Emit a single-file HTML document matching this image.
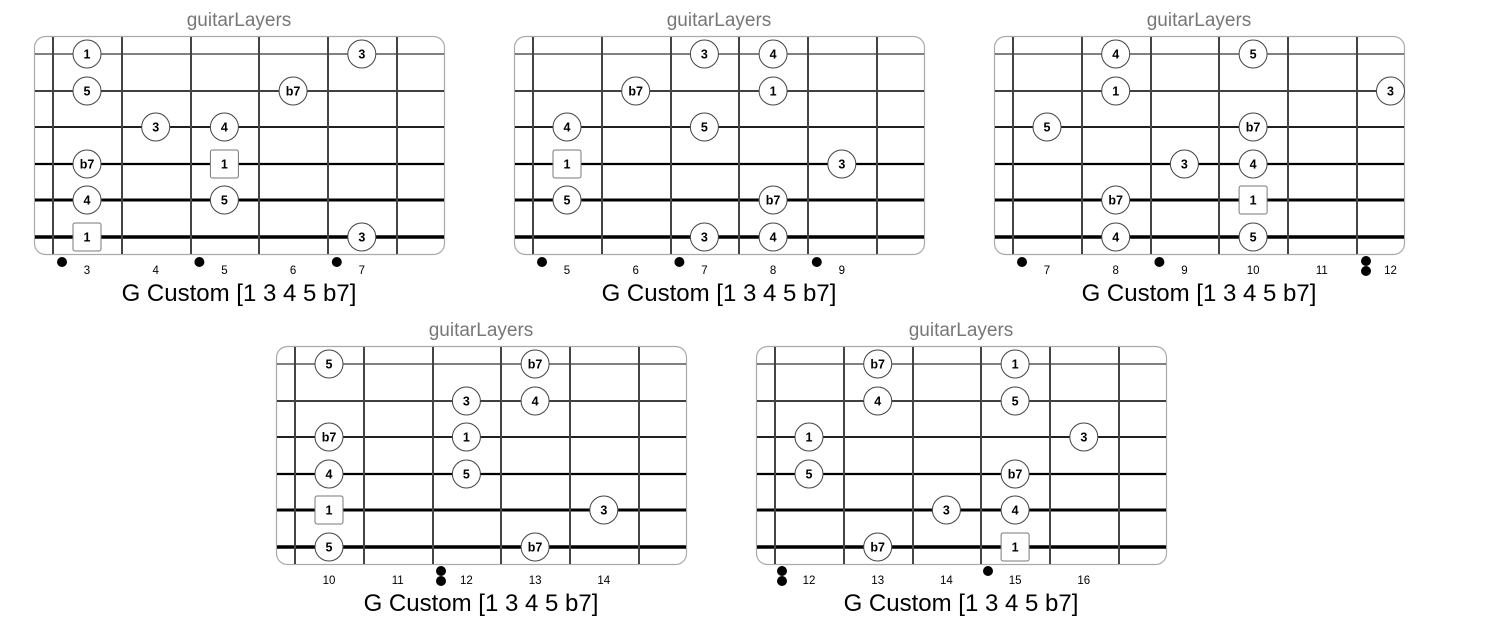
<!DOCTYPE html>
<html><head><meta charset="utf-8"><style>
html,body{margin:0;padding:0;background:#fff;}
svg{display:block;}
.t{font-family:"Liberation Sans",sans-serif;font-size:19px;fill:#777;text-anchor:middle;}
.l{font-family:"Liberation Sans",sans-serif;font-size:24px;fill:#000;text-anchor:middle;}
.n{font-family:"Liberation Sans",sans-serif;font-size:11.5px;fill:#000;text-anchor:middle;}
.nt{font-family:"Liberation Sans",sans-serif;font-size:12.5px;font-weight:bold;fill:#000;text-anchor:middle;}
.box{fill:#fff;stroke:#aaa;stroke-width:1.2;}
.f{stroke:#444;stroke-width:2;}
.c{fill:#fff;stroke:#444;stroke-width:1;}
.s{fill:#fff;stroke:#777;stroke-width:1;}
</style></head><body>
<svg width="1511" height="620" viewBox="0 0 1511 620" xmlns="http://www.w3.org/2000/svg">
<defs>
<g id="fb">
<rect class="box" x="0.5" y="0.5" width="410" height="218" rx="11"/>
<line x1="1" x2="410" y1="18" y2="18" stroke="#000" stroke-width="1"/>
<line x1="1" x2="410" y1="55" y2="55" stroke="#000" stroke-width="1.4"/>
<line x1="1" x2="410" y1="91" y2="91" stroke="#000" stroke-width="1.8"/>
<line x1="1" x2="410" y1="128" y2="128" stroke="#000" stroke-width="2.3"/>
<line x1="1" x2="410" y1="164" y2="164" stroke="#000" stroke-width="2.9"/>
<line x1="1" x2="410" y1="201" y2="201" stroke="#000" stroke-width="3.4"/>
<line class="f" x1="19" x2="19" y1="1" y2="218"/>
<line class="f" x1="88" x2="88" y1="1" y2="218"/>
<line class="f" x1="157" x2="157" y1="1" y2="218"/>
<line class="f" x1="225" x2="225" y1="1" y2="218"/>
<line class="f" x1="294" x2="294" y1="1" y2="218"/>
<line class="f" x1="363" x2="363" y1="1" y2="218"/>
</g>
</defs>

<!-- D1 -->
<g transform="translate(34,36)">
<use href="#fb"/>
<text class="t" x="205" y="-10">guitarLayers</text>
<circle class="c" cx="53" cy="18" r="14"/><text class="nt" x="53" y="22.5">1</text>
<circle class="c" cx="327.8" cy="18" r="14"/><text class="nt" x="327.8" y="22.5">3</text>
<circle class="c" cx="53" cy="55" r="14"/><text class="nt" x="53" y="59.5">5</text>
<circle class="c" cx="259.1" cy="55" r="14"/><text class="nt" x="259.1" y="59.5">b7</text>
<circle class="c" cx="121.7" cy="91" r="14"/><text class="nt" x="121.7" y="95.5">3</text>
<circle class="c" cx="190.4" cy="91" r="14"/><text class="nt" x="190.4" y="95.5">4</text>
<circle class="c" cx="53" cy="128" r="14"/><text class="nt" x="53" y="132.5">b7</text>
<rect class="s" x="176.4" y="114" width="28" height="28" rx="2"/><text class="nt" x="190.4" y="132.5">1</text>
<circle class="c" cx="53" cy="164" r="14"/><text class="nt" x="53" y="168.5">4</text>
<circle class="c" cx="190.4" cy="164" r="14"/><text class="nt" x="190.4" y="168.5">5</text>
<rect class="s" x="39" y="187" width="28" height="28" rx="2"/><text class="nt" x="53" y="205.5">1</text>
<circle class="c" cx="327.8" cy="201" r="14"/><text class="nt" x="327.8" y="205.5">3</text>
<text class="n" x="53" y="238">3</text><text class="n" x="121.7" y="238">4</text><text class="n" x="190.4" y="238">5</text><text class="n" x="259.1" y="238">6</text><text class="n" x="327.8" y="238">7</text>
<circle cx="28" cy="226" r="5"/><circle cx="165.4" cy="226" r="5"/><circle cx="302.8" cy="226" r="5"/>
<text class="l" x="205" y="265">G Custom [1 3 4 5 b7]</text>
</g>

<!-- D2 -->
<g transform="translate(514,36)">
<use href="#fb"/>
<text class="t" x="205" y="-10">guitarLayers</text>
<circle class="c" cx="190.4" cy="18" r="14"/><text class="nt" x="190.4" y="22.5">3</text>
<circle class="c" cx="259.1" cy="18" r="14"/><text class="nt" x="259.1" y="22.5">4</text>
<circle class="c" cx="121.7" cy="55" r="14"/><text class="nt" x="121.7" y="59.5">b7</text>
<circle class="c" cx="259.1" cy="55" r="14"/><text class="nt" x="259.1" y="59.5">1</text>
<circle class="c" cx="53" cy="91" r="14"/><text class="nt" x="53" y="95.5">4</text>
<circle class="c" cx="190.4" cy="91" r="14"/><text class="nt" x="190.4" y="95.5">5</text>
<rect class="s" x="39" y="114" width="28" height="28" rx="2"/><text class="nt" x="53" y="132.5">1</text>
<circle class="c" cx="327.8" cy="128" r="14"/><text class="nt" x="327.8" y="132.5">3</text>
<circle class="c" cx="53" cy="164" r="14"/><text class="nt" x="53" y="168.5">5</text>
<circle class="c" cx="259.1" cy="164" r="14"/><text class="nt" x="259.1" y="168.5">b7</text>
<circle class="c" cx="190.4" cy="201" r="14"/><text class="nt" x="190.4" y="205.5">3</text>
<circle class="c" cx="259.1" cy="201" r="14"/><text class="nt" x="259.1" y="205.5">4</text>
<text class="n" x="53" y="238">5</text><text class="n" x="121.7" y="238">6</text><text class="n" x="190.4" y="238">7</text><text class="n" x="259.1" y="238">8</text><text class="n" x="327.8" y="238">9</text>
<circle cx="28" cy="226" r="5"/><circle cx="165.4" cy="226" r="5"/><circle cx="302.8" cy="226" r="5"/>
<text class="l" x="205" y="265">G Custom [1 3 4 5 b7]</text>
</g>

<!-- D3 -->
<g transform="translate(994,36)">
<use href="#fb"/>
<text class="t" x="205" y="-10">guitarLayers</text>
<circle class="c" cx="121.7" cy="18" r="14"/><text class="nt" x="121.7" y="22.5">4</text>
<circle class="c" cx="259.1" cy="18" r="14"/><text class="nt" x="259.1" y="22.5">5</text>
<circle class="c" cx="121.7" cy="55" r="14"/><text class="nt" x="121.7" y="59.5">1</text>
<circle class="c" cx="396.5" cy="55" r="14"/><text class="nt" x="396.5" y="59.5">3</text>
<circle class="c" cx="53" cy="91" r="14"/><text class="nt" x="53" y="95.5">5</text>
<circle class="c" cx="259.1" cy="91" r="14"/><text class="nt" x="259.1" y="95.5">b7</text>
<circle class="c" cx="190.4" cy="128" r="14"/><text class="nt" x="190.4" y="132.5">3</text>
<circle class="c" cx="259.1" cy="128" r="14"/><text class="nt" x="259.1" y="132.5">4</text>
<circle class="c" cx="121.7" cy="164" r="14"/><text class="nt" x="121.7" y="168.5">b7</text>
<rect class="s" x="245.1" y="150" width="28" height="28" rx="2"/><text class="nt" x="259.1" y="168.5">1</text>
<circle class="c" cx="121.7" cy="201" r="14"/><text class="nt" x="121.7" y="205.5">4</text>
<circle class="c" cx="259.1" cy="201" r="14"/><text class="nt" x="259.1" y="205.5">5</text>
<text class="n" x="53" y="238">7</text><text class="n" x="121.7" y="238">8</text><text class="n" x="190.4" y="238">9</text><text class="n" x="259.1" y="238">10</text><text class="n" x="327.8" y="238">11</text><text class="n" x="396.5" y="238">12</text>
<circle cx="28" cy="226" r="5"/><circle cx="165.4" cy="226" r="5"/><circle cx="372" cy="225" r="5"/><circle cx="372" cy="235" r="5"/>
<text class="l" x="205" y="265">G Custom [1 3 4 5 b7]</text>
</g>

<!-- D4 -->
<g transform="translate(276,346)">
<use href="#fb"/>
<text class="t" x="205" y="-10">guitarLayers</text>
<circle class="c" cx="53" cy="18" r="14"/><text class="nt" x="53" y="22.5">5</text>
<circle class="c" cx="259.1" cy="18" r="14"/><text class="nt" x="259.1" y="22.5">b7</text>
<circle class="c" cx="190.4" cy="55" r="14"/><text class="nt" x="190.4" y="59.5">3</text>
<circle class="c" cx="259.1" cy="55" r="14"/><text class="nt" x="259.1" y="59.5">4</text>
<circle class="c" cx="53" cy="91" r="14"/><text class="nt" x="53" y="95.5">b7</text>
<circle class="c" cx="190.4" cy="91" r="14"/><text class="nt" x="190.4" y="95.5">1</text>
<circle class="c" cx="53" cy="128" r="14"/><text class="nt" x="53" y="132.5">4</text>
<circle class="c" cx="190.4" cy="128" r="14"/><text class="nt" x="190.4" y="132.5">5</text>
<rect class="s" x="39" y="150" width="28" height="28" rx="2"/><text class="nt" x="53" y="168.5">1</text>
<circle class="c" cx="327.8" cy="164" r="14"/><text class="nt" x="327.8" y="168.5">3</text>
<circle class="c" cx="53" cy="201" r="14"/><text class="nt" x="53" y="205.5">5</text>
<circle class="c" cx="259.1" cy="201" r="14"/><text class="nt" x="259.1" y="205.5">b7</text>
<text class="n" x="53" y="238">10</text><text class="n" x="121.7" y="238">11</text><text class="n" x="190.4" y="238">12</text><text class="n" x="259.1" y="238">13</text><text class="n" x="327.8" y="238">14</text>
<circle cx="165" cy="225" r="5"/><circle cx="165" cy="235" r="5"/>
<text class="l" x="205" y="265">G Custom [1 3 4 5 b7]</text>
</g>

<!-- D5 -->
<g transform="translate(756,346)">
<use href="#fb"/>
<text class="t" x="205" y="-10">guitarLayers</text>
<circle class="c" cx="121.7" cy="18" r="14"/><text class="nt" x="121.7" y="22.5">b7</text>
<circle class="c" cx="259.1" cy="18" r="14"/><text class="nt" x="259.1" y="22.5">1</text>
<circle class="c" cx="121.7" cy="55" r="14"/><text class="nt" x="121.7" y="59.5">4</text>
<circle class="c" cx="259.1" cy="55" r="14"/><text class="nt" x="259.1" y="59.5">5</text>
<circle class="c" cx="53" cy="91" r="14"/><text class="nt" x="53" y="95.5">1</text>
<circle class="c" cx="327.8" cy="91" r="14"/><text class="nt" x="327.8" y="95.5">3</text>
<circle class="c" cx="53" cy="128" r="14"/><text class="nt" x="53" y="132.5">5</text>
<circle class="c" cx="259.1" cy="128" r="14"/><text class="nt" x="259.1" y="132.5">b7</text>
<circle class="c" cx="190.4" cy="164" r="14"/><text class="nt" x="190.4" y="168.5">3</text>
<circle class="c" cx="259.1" cy="164" r="14"/><text class="nt" x="259.1" y="168.5">4</text>
<circle class="c" cx="121.7" cy="201" r="14"/><text class="nt" x="121.7" y="205.5">b7</text>
<rect class="s" x="245.1" y="187" width="28" height="28" rx="2"/><text class="nt" x="259.1" y="205.5">1</text>
<text class="n" x="53" y="238">12</text><text class="n" x="121.7" y="238">13</text><text class="n" x="190.4" y="238">14</text><text class="n" x="259.1" y="238">15</text><text class="n" x="327.8" y="238">16</text>
<circle cx="26" cy="225" r="5"/><circle cx="26" cy="235" r="5"/><circle cx="232" cy="225" r="5"/>
<text class="l" x="205" y="265">G Custom [1 3 4 5 b7]</text>
</g>
</svg>
</body></html>
